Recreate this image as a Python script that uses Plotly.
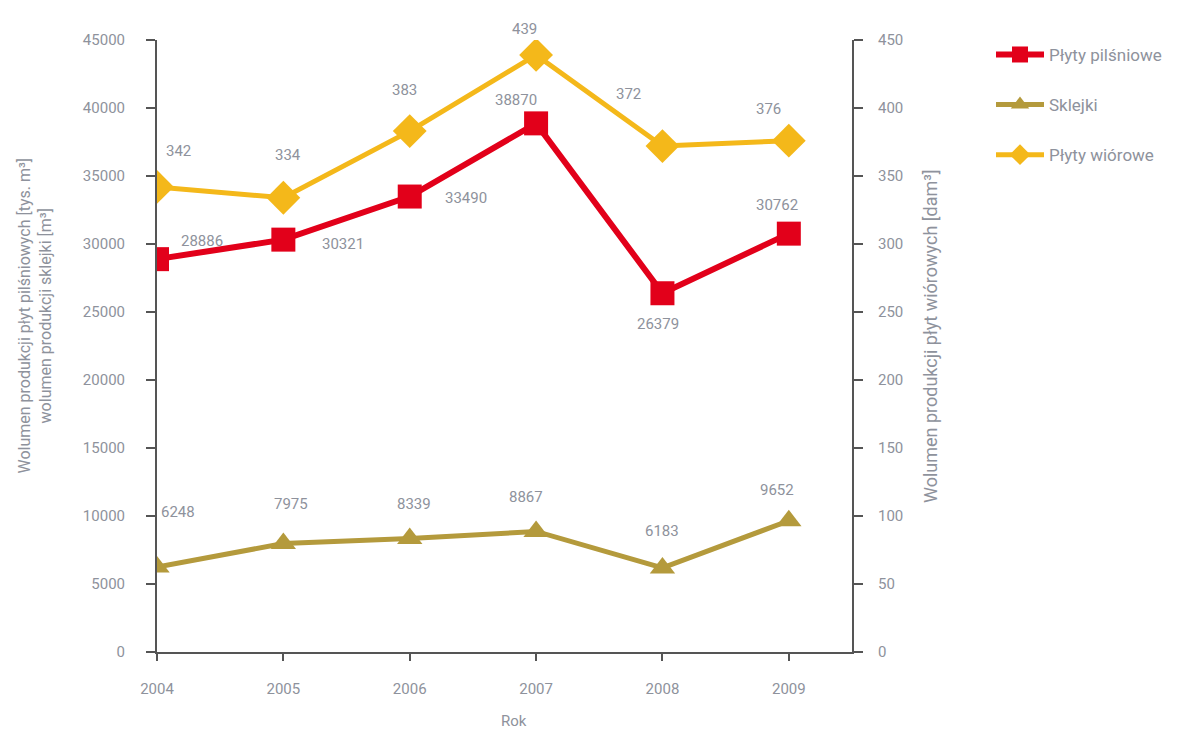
import plotly.graph_objects as go

years = [2004, 2005, 2006, 2007, 2008, 2009]
pilsniowe = [28886, 30321, 33490, 38870, 26379, 30762]
sklejki = [6248, 7975, 8339, 8867, 6183, 9652]
wiorowe = [342, 334, 383, 439, 372, 376]

names = ["Płyty pilśniowe", "Sklejki", "Płyty wiórowe"]
c_red = "#E2001A"
c_olive = "#B49A3C"
c_yellow = "#F4B81A"
c_text = "#8E929C"
c_axis = "#555555"
font_family = "Roboto, Arial, sans-serif"

# label offsets (pixels) relative to each point
off_p = [(45, -18), (60, 4), (56, 1), (-20, -23), (-4, 31), (-12, -29)]
off_s = [(21, -55), (8, -40), (4, -35), (-10, -34), (0, -37), (-12, -31)]
off_w = [(21, -36), (5, -43), (-5, -41), (-12, -26), (-34, -52), (-20, -32)]

fig = go.Figure()
fig.add_trace(go.Scatter(x=years, y=pilsniowe, name=names[0], mode="lines+markers",
                         line=dict(color=c_red, width=6),
                         marker=dict(symbol="square", size=24, color=c_red),
                         legendgroup="a", yaxis="y"))
fig.add_trace(go.Scatter(x=years, y=sklejki, name=names[1], mode="lines+markers",
                         line=dict(color=c_olive, width=5),
                         marker=dict(symbol="triangle-up", size=22, color=c_olive),
                         legendgroup="b", yaxis="y"))
fig.add_trace(go.Scatter(x=years, y=wiorowe, name=names[2], mode="lines+markers",
                         line=dict(color=c_yellow, width=5),
                         marker=dict(symbol="diamond", size=26, color=c_yellow),
                         legendgroup="c", yaxis="y2"))

anns = []
for vals, offs, yref in [(pilsniowe, off_p, "y"), (sklejki, off_s, "y"), (wiorowe, off_w, "y2")]:
    for x, v, (dx, dy) in zip(years, vals, offs):
        anns.append(dict(x=x, y=v, xref="x", yref=yref, text=str(v), showarrow=False,
                         xshift=dx, yshift=-dy, font=dict(size=15, color=c_text, family=font_family)))

# axis titles
anns.append(dict(x=-0.207, y=0.55, xref="paper", yref="paper", textangle=-90, showarrow=False,
                 text="Wolumen produkcji płyt pilśniowych [tys. m³]<br>wolumen produkcji sklejki [m³]",
                 font=dict(size=16, color=c_text, family=font_family), align="center"))
anns.append(dict(x=1.13, y=0.516, xref="paper", yref="paper", textangle=-90, showarrow=False,
                 text="Wolumen produkcji płyt wiórowych [dam³]",
                 font=dict(size=18, color=c_text, family=font_family)))
anns.append(dict(x=0.514, y=-0.112, xref="paper", yref="paper", showarrow=False,
                 text="Rok", yanchor="middle",
                 font=dict(size=15, color=c_text, family=font_family)))

fig.update_layout(
    width=1172, height=723,
    margin=dict(l=149, r=328, t=32, b=79, autoexpand=False),
    paper_bgcolor="white", plot_bgcolor="white",
    font=dict(family=font_family, color=c_text, size=15),
    showlegend=True,
    legend=dict(x=1.2, y=1.005, xanchor="left", yanchor="top", tracegroupgap=25,
                itemwidth=48,
                font=dict(size=17, color=c_text), bgcolor="rgba(0,0,0,0)"),
    xaxis=dict(range=[2004, 2009.5], tickvals=years, ticks="outside", ticklen=7,
               tickcolor=c_axis, tickwidth=2, showline=True, linecolor=c_axis, linewidth=2,
               showgrid=False, zeroline=False, ticklabelstandoff=15, automargin=False,
               tickfont=dict(size=15, color=c_text)),
    yaxis=dict(range=[0, 45000], dtick=5000, ticks="outside", ticklen=9, tickformat="d",
               tickcolor=c_axis, tickwidth=2, showline=True, linecolor=c_axis, linewidth=2,
               showgrid=False, zeroline=False, ticklabelstandoff=18, automargin=False,
               tickfont=dict(size=15, color=c_text)),
    yaxis2=dict(range=[0, 450], dtick=50, overlaying="y", side="right", ticks="outside",
                ticklen=9, tickcolor=c_axis, tickwidth=2, showline=True, linecolor=c_axis,
                linewidth=2, showgrid=False, zeroline=False, ticklabelstandoff=12, tickformat="d",
                automargin=False, tickfont=dict(size=15, color=c_text)),
    annotations=anns,
)

fig.write_html("out.html")
